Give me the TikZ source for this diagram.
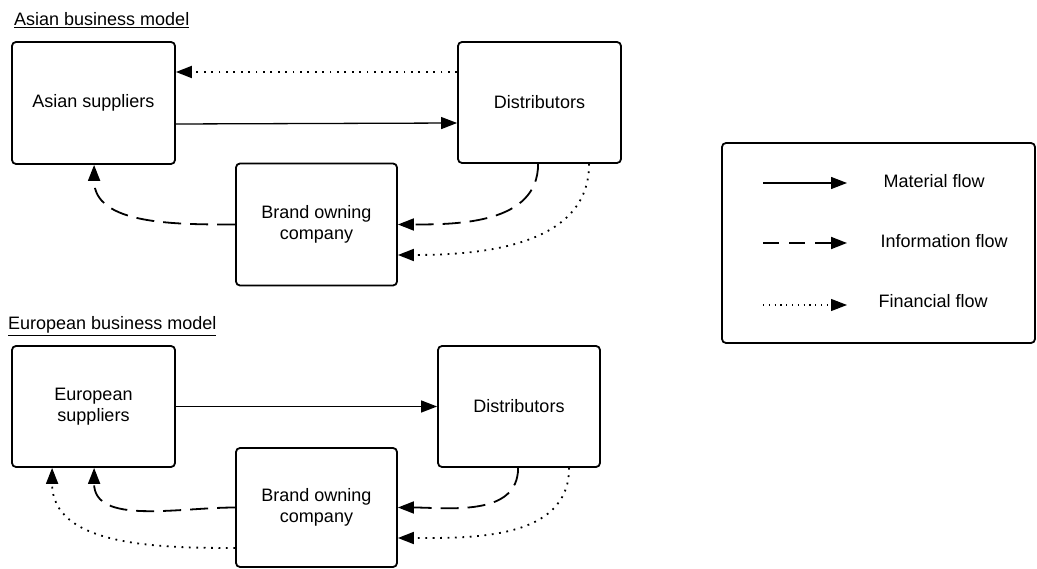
\documentclass[tikz,border=0pt]{standalone}
\usepackage{fontspec}
\setmainfont{Liberation Sans}
\usepackage{tikz}
\usetikzlibrary{arrows.meta,positioning,calc}

\begin{document}
\begin{tikzpicture}
  [x=1pt,y=-1pt,
  every node/.style={font=\fontsize{18}{21.5}\selectfont},
  >={Triangle[length=16pt,width=12pt]},
  flowbox/.style={rectangle,rounded corners=4pt,draw,line width=1.8pt,align=center},
  material/.style={->,line width=1.3pt},
  information/.style={->,line width=1.8pt,dash pattern=on 18pt off 9pt},
  financial/.style={->,line width=1.8pt,dash pattern=on 1.8pt off 5.6pt},
  title/.style={anchor=west,inner sep=0pt}
  ]
  \useasboundingbox (0,0) rectangle (1037,569);

  % Asian business model
  \node[title] (asiatitle) at (14,20) {\underline{Asian business model}};
  \node[flowbox,minimum width=163pt,minimum height=122pt] (asiasup) at (93.5,103) {Asian suppliers};
  \node[flowbox,minimum width=163pt,minimum height=121pt] (asiadist) at (539.5,102.5) {Distributors};
  \node[flowbox,minimum width=161pt,minimum height=122pt] (asiabrand) at (316.5,224.5) {Brand owning\\company};

  \draw[financial] ([yshift=30.5pt]asiadist.west) -- ([yshift=31pt]asiasup.east);
  \draw[material] ([yshift=-21pt]asiasup.east) -- ([yshift=-20.5pt]asiadist.west);
  \draw[information] (asiabrand.west) to[out=180,in=-90] ([xshift=83pt]asiasup.south west);
  \draw[information] ([xshift=81pt]asiadist.south west) to[out=-90,in=0] (asiabrand.east);
  \draw[financial] ([xshift=132pt]asiadist.south west) to[out=-90,in=0] ([yshift=-30.5pt]asiabrand.east);

  % European business model
  \node[title] (eurotitle) at (8,326) {\underline{European business model}};
  \node[flowbox,minimum width=163pt,minimum height=121pt] (eurosup) at (93.5,406.5) {European\\suppliers};
  \node[flowbox,minimum width=162pt,minimum height=121pt] (eurodist) at (519,406.5) {Distributors};
  \node[flowbox,minimum width=161pt,minimum height=119pt] (eurobrand) at (316.5,507.5) {Brand owning\\company};

  \draw[material] (eurosup.east) -- (eurodist.west);
  \draw[information] (eurobrand.west) to[out=180,in=-90] ([xshift=83pt]eurosup.south west);
  \draw[financial] ([yshift=-40.5pt]eurobrand.west) to[out=180,in=-90] ([xshift=41pt]eurosup.south west);
  \draw[information] ([xshift=81pt]eurodist.south west) to[out=-90,in=0] (eurobrand.east);
  \draw[financial] ([xshift=132pt]eurodist.south west) to[out=-90,in=0] ([yshift=-30.5pt]eurobrand.east);

  % Legend
  \node[flowbox,minimum width=313pt,minimum height=200pt] (legend) at (878.5,243) {};
  \coordinate (matstart) at (763,183);
  \coordinate (matend) at (847,183);
  \coordinate (infstart) at (763,243);
  \coordinate (infend) at (847,243);
  \coordinate (finstart) at (763,305);
  \coordinate (finend) at (847,305);
  \draw[material] (matstart) -- (matend);
  \draw[information,dash pattern=on 16pt off 10pt] (infstart) -- (infend);
  \draw[financial,line width=1.2pt,dash pattern=on 1.2pt off 4.6pt] (finstart) -- (finend);
  \node[anchor=west] (matlabel) at (880,181) {Material flow};
  \node[anchor=west] (inflabel) at (877,241) {Information flow};
  \node[anchor=west] (finlabel) at (875,301) {Financial flow};
\end{tikzpicture}
\end{document}
